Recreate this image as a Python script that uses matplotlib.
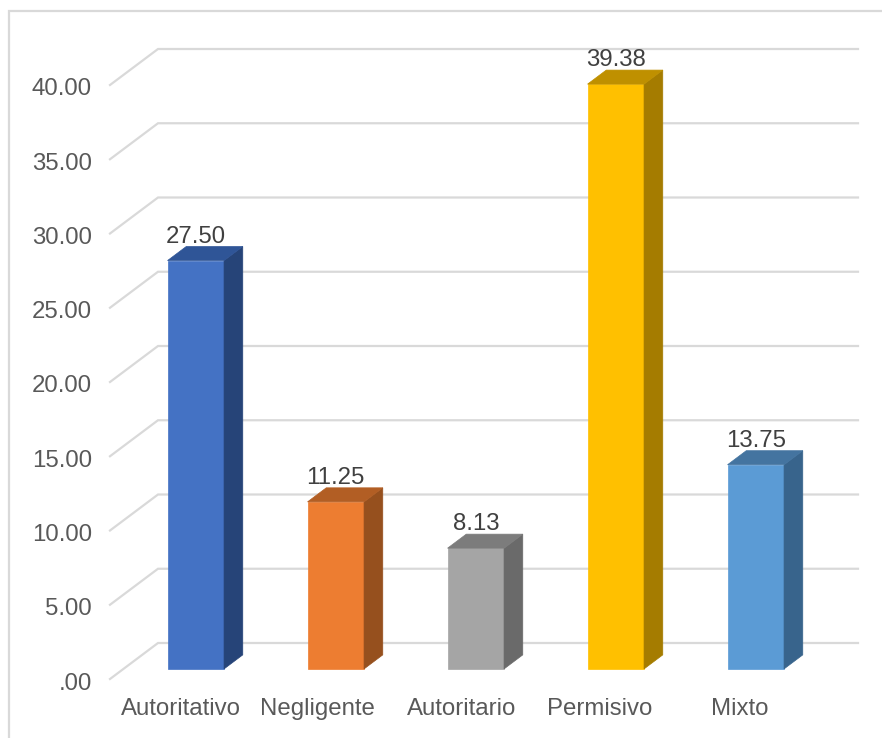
import matplotlib
matplotlib.use('Agg')
import matplotlib.pyplot as plt
from matplotlib.patches import Rectangle
from matplotlib.transforms import ScaledTranslation

categories = ['Autoritativo', 'Negligente', 'Autoritario', 'Permisivo', 'Mixto']
values = [27.50, 11.25, 8.13, 39.38, 13.75]
yticks = [0, 5, 10, 15, 20, 25, 30, 35, 40]
yticklabels = ['.00', '5.00', '10.00', '15.00', '20.00', '25.00', '30.00', '35.00', '40.00']

front_colors = ['#4472C4', '#ED7D31', '#A5A5A5', '#FFC000', '#5B9BD5']
side_colors = ['#264478', '#96501E', '#6A6A6A', '#A57C00', '#38648C']
top_colors = ['#2F5597', '#B25E24', '#7C7C7C', '#BF9000', '#4474A0']

W, H = 882, 738
fig = plt.figure(figsize=(W / 100, H / 100), dpi=100)
plt.rcParams['font.family'] = ['Liberation Sans', 'DejaVu Sans']

# chart area border, runs off the right and bottom of the image
fig.add_artist(Rectangle((9 / W, -0.1), 1.2, 1.1 - 11 / H, transform=fig.transFigure,
                         fill=False, edgecolor='#D9D9D9', linewidth=1.6))

# front plane of the fake 3d box
ax = fig.add_axes([110 / W, (H - 679) / H, 700 / W, 594 / H])
ax.set_xlim(-0.51, 4.49)
ax.set_ylim(0, 40)
for s in ax.spines.values():
    s.set_visible(False)

# depth of the box in data units
depth_x = 48 / 140
depth_y = 36 / 14.85
bar_width = 56.5 / 140
near_x, far_x = 0.3, 0.69
near_y, far_y = 0.28, 0.67

x0, x1 = ax.get_xlim()
for v in yticks:
    ax.plot([x0, x0 + depth_x, x1 + depth_x], [v, v + depth_y, v + depth_y],
            color='#D9D9D9', linewidth=1.6, clip_on=False, zorder=1, solid_joinstyle='miter')

for i, v in enumerate(values):
    left = i + near_x * depth_x - bar_width / 2
    right = left + bar_width
    base = near_y * depth_y
    dx = (far_x - near_x) * depth_x
    dy = (far_y - near_y) * depth_y
    ax.bar(left, v, width=bar_width, bottom=base, align='edge', color=front_colors[i],
           edgecolor=front_colors[i], linewidth=0.5, clip_on=False, zorder=3)
    ax.fill([right, right + dx, right + dx, right],
            [base, base + dy, base + v + dy, base + v],
            color=side_colors[i], linewidth=0.5, clip_on=False, zorder=3)
    ax.fill([left, left + dx, right + dx, right],
            [base + v, base + v + dy, base + v + dy, base + v],
            color=top_colors[i], linewidth=0.5, clip_on=False, zorder=3)
    ax.annotate('%.2f' % v, (i + near_x * depth_x, base + v), xytext=(0, 17.3),
                textcoords='offset points', ha='center', va='center', annotation_clip=False,
                fontsize=17.3, color='#404040', zorder=4)

# labels in the original are not quite evenly spaced
ax.set_xticks([0.0, 0.97, 2.0, 2.99, 3.99])
ax.set_xticklabels(categories)
ax.set_yticks(yticks)
ax.set_yticklabels(yticklabels)
ax.tick_params(axis='both', length=0, labelsize=17.3, labelcolor='#595959')
ax.tick_params(axis='y', pad=13)
ax.tick_params(axis='x', pad=14)

down = ScaledTranslation(0, -2 / 100, fig.dpi_scale_trans)
for label in ax.get_yticklabels():
    label.set_transform(label.get_transform() + down)

fig.savefig('out.png', dpi=100)
